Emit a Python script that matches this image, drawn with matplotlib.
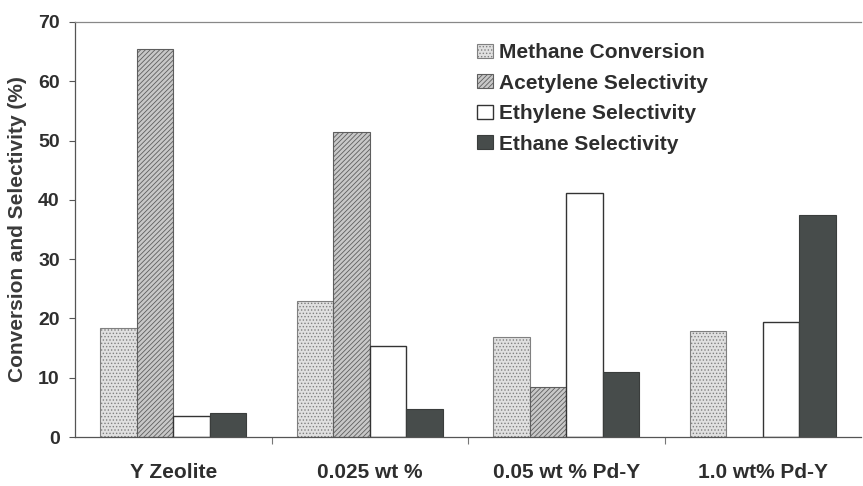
import matplotlib
matplotlib.use("Agg")
import matplotlib.pyplot as plt
import numpy as np
from matplotlib.patches import Patch

categories = ["Y Zeolite", "0.025 wt %", "0.05 wt % Pd-Y", "1.0 wt% Pd-Y"]
methane_conversion = [18.4, 22.9, 16.9, 17.9]
acetylene_selectivity = [65.5, 51.4, 8.5, 0.0]
ethylene_selectivity = [3.6, 15.3, 41.2, 19.4]
ethane_selectivity = [4.1, 4.7, 11.0, 37.4]
series_names = ["Methane Conversion", "Acetylene Selectivity",
                "Ethylene Selectivity", "Ethane Selectivity"]
y_ticks = [0, 10, 20, 30, 40, 50, 60, 70]

plt.rcParams['hatch.linewidth'] = 0.6
plt.rcParams['font.family'] = ['Liberation Sans', 'DejaVu Sans']
txt = '#2e2e2e'

fig = plt.figure(figsize=(8.63, 4.86), dpi=100)
ax = fig.add_axes([75/863, 1-437/486, 786/863, 415/486])

series = [methane_conversion, acetylene_selectivity, ethylene_selectivity, ethane_selectivity]
styles = [
    dict(facecolor='#e0e0e0', edgecolor='#808080', hatch='.....', linewidth=0.8),
    dict(facecolor='#c8c8c8', edgecolor='#5e5e5e', hatch='///////', linewidth=0.8),
    dict(facecolor='white', edgecolor='#333333', hatch=None, linewidth=1.0),
    dict(facecolor='#474c4b', edgecolor='#3a3d3c', hatch=None, linewidth=0.8),
]
w = 0.186
x = np.arange(len(categories)) + 0.5
for i, (vals, st) in enumerate(zip(series, styles)):
    ax.bar(x + (i - 1.5) * w, vals, width=w, **st)

ax.set_xlim(0, 4)
ax.set_ylim(0, 70)
ax.set_yticks(y_ticks)
ax.set_yticklabels([str(v) for v in y_ticks], fontsize=14, fontweight='bold', color=txt)
ax.tick_params(axis='y', direction='out', length=4, width=0.8, color='#555555', pad=7)

ax.set_xticks(x)
ax.set_xticklabels(categories, fontsize=15, fontweight='bold', color=txt)
ax.tick_params(axis='x', length=0, pad=19)
ax.set_xticks([1, 2, 3], minor=True)
ax.tick_params(axis='x', which='minor', direction='out', length=5, width=0.8, color='#777777')

for s in ['left', 'bottom', 'top']:
    ax.spines[s].set_color('#555555')
    ax.spines[s].set_linewidth(0.9)
ax.spines['top'].set_color('#888888')
ax.spines['right'].set_visible(False)

ax.set_ylabel("Conversion and Selectivity (%)", fontsize=15, fontweight='bold', color='#3a3a3a', labelpad=8)

handles = [Patch(**st) for st in styles]
leg = ax.legend(handles, series_names, loc='upper left', bbox_to_anchor=(0.4988, 0.974),
                frameon=False, prop={'size': 15, 'weight': 'bold'}, borderpad=0,
                handlelength=0.75, handleheight=0.65, handletextpad=0.3, labelspacing=0.55)
for t in leg.get_texts():
    t.set_color(txt)

fig.savefig("out.png", dpi=100)
